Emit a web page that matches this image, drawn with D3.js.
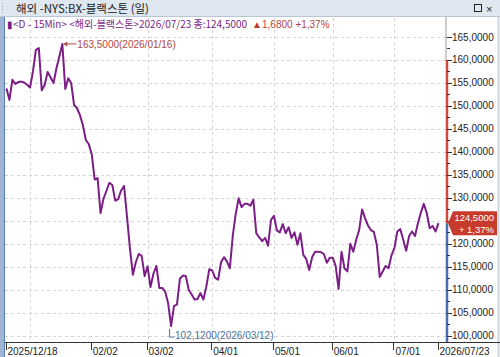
<!DOCTYPE html>
<html>
<head>
<meta charset="utf-8">
<script src="https://cdnjs.cloudflare.com/ajax/libs/d3/7.8.5/d3.min.js"></script>
<style>
  body { margin: 0; background: #fff; overflow: hidden; }
  text { font-family: "Liberation Sans", Arial, sans-serif; }
  .kr { font-family: "Noto Sans CJK KR", "Liberation Sans", sans-serif; }
</style>
</head>
<body>
<div id="chart"></div>
<script>
// trading days
var startDay = "2025-12-18"
var endDay = "2026-07-23"
var holidays = ["2025-12-25", "2026-01-01", "2026-01-19", "2026-02-16",
                "2026-04-03", "2026-05-25", "2026-06-19", "2026-07-03"]

// daily closes
var closes = [
  153.8, 151.3, 155.7, 154.8, 155.2, 155.3, 155.1, 154.6, 154.0, 157.5,
  162.2, 162.6, 153.4, 154.6, 157.4, 156.2, 155.0, 158.2, 160.8, 163.5,
  153.7, 156.0, 155.0, 150.2, 149.5, 148.0, 145.8, 142.6, 141.7, 139.5,
  134.0, 134.3, 126.7, 129.8, 131.5, 133.3, 132.8, 129.4, 129.7, 131.6,
  132.6, 126.0, 119.0, 113.3, 116.0, 117.8, 117.4, 113.0, 115.1, 110.6,
  113.5, 115.2, 110.4, 110.4, 109.6, 107.1, 102.12, 106.5, 106.8, 112.4,
  113.1, 113.0, 110.0, 109.0, 107.9, 108.0, 109.3, 107.9, 110.7, 114.5,
  114.2, 112.6, 112.2, 116.0, 117.1, 116.2, 114.7, 121.8, 126.5, 129.9,
  128.0, 128.7, 128.7, 128.3, 129.6, 122.3, 121.4, 120.6, 121.3, 119.6,
  125.2, 126.1, 122.9, 122.5, 124.3, 122.3, 123.6, 121.3, 122.5, 119.8,
  122.3, 117.6, 116.7, 114.3, 117.1, 118.3, 118.3, 118.2, 117.8, 115.9,
  117.0, 117.0, 115.2, 110.2, 118.3, 114.7, 114.0, 120.0, 118.3, 120.9,
  123.0, 127.5, 125.6, 124.0, 123.0, 122.6, 119.8, 112.8, 114.0, 115.2,
  114.7, 117.5, 119.1, 122.7, 123.2, 120.9, 118.5, 121.7, 122.7, 121.7,
  124.5, 126.8, 128.7, 126.7, 123.4, 123.9, 122.7, 124.5
]

var yTicks = [100, 105, 110, 115, 120, 125, 130, 135, 140, 145, 150, 155, 160, 165]
var xTickDates = ["2025-12-18", "2026-02-02", "2026-03-02", "2026-04-01",
                  "2026-05-01", "2026-06-01", "2026-07-01", "2026-07-23"]
var xTickLabels = ["2025/12/18", "02/02", "03/02", "04/01", "05/01", "06/01", "07/01", "2026/07/23"]
var gridDates = ["2025-12-31", "2026-03-02", "2026-04-01", "2026-05-01", "2026-06-01", "2026-07-01"]

var highPoint = { date: "2026-01-16", value: 163.5 }
var lowPoint = { date: "2026-03-12", value: 102.12 }
var lastPrice = 124.5
var change = 1.68
var changePct = 1.37
var barTop = 160

var titleText = "해외 -NYS:BX-블랙스톤 (일)"
var headText = "<D - 15Min> <해외-블랙스톤>2026/07/23 종:"

// build the day list (weekdays that are not holidays)
var days = []
var fmtDay = d3.utcFormat("%Y-%m-%d")
var d0 = new Date(startDay + "T00:00:00Z")
var d1 = new Date(endDay + "T00:00:00Z")
for (var t = d0; t <= d1; t = d3.utcDay.offset(t, 1)) {
  var wd = t.getUTCDay()
  var s = fmtDay(t)
  if (wd != 0 && wd != 6 && holidays.indexOf(s) < 0) days.push(s)
}
var data = days.map(function(d, i){ return { date: d, value: closes[i] } })

var comma = function(v, n){ return d3.format("." + n + "f")(v).replace(".", ",") }

var w = 500, h = 357
var axisX = 447, axisY = 342

var x = d3.scalePoint().domain(days).range([6.5, 438.5])
var y = d3.scaleLinear().domain([100, 165]).range([335.8, 37])

var svg = d3.select("#chart").append("svg")
  .attr("width", w)
  .attr("height", h)

// title bar
svg.append("rect").attr("x", 0).attr("y", 0).attr("width", w).attr("height", 16)
  .attr("fill", "#dfe7f0")
svg.append("line").attr("x1", 0).attr("x2", w).attr("y1", 16.5).attr("y2", 16.5)
  .attr("stroke", "#b8c6d6")
svg.append("line").attr("x1", 2.5).attr("x2", 2.5).attr("y1", 3).attr("y2", 13)
  .attr("stroke", "#8a9bb0").attr("stroke-dasharray", "1,2")
svg.append("text").attr("class", "kr").attr("x", 16).attr("y", 12.5)
  .attr("font-size", 11.5).attr("fill", "#222").text(titleText)
svg.append("rect").attr("x", 474.5).attr("y", 4.5).attr("width", 7).attr("height", 7)
  .attr("fill", "none").attr("stroke", "#222")
svg.append("text").attr("x", 486).attr("y", 12.5).attr("font-size", 11)
  .attr("fill", "#222").text("×")

// left strip and right border
svg.append("rect").attr("x", 0).attr("y", 17).attr("width", 4).attr("height", h - 17)
  .attr("fill", "#9fb5d3")
svg.append("line").attr("x1", 4.5).attr("x2", 4.5).attr("y1", 17).attr("y2", h)
  .attr("stroke", "#5b7fb3")
svg.append("line").attr("x1", 498.5).attr("x2", 498.5).attr("y1", 17).attr("y2", h)
  .attr("stroke", "#d0d6de").attr("stroke-width", 2)

// grid
svg.append("g").selectAll("line")
  .data(yTicks)
  .enter()
  .append("line")
  .attr("x1", 5).attr("x2", axisX)
  .attr("y1", function(d){ return Math.round(y(d)) + 0.5 })
  .attr("y2", function(d){ return Math.round(y(d)) + 0.5 })
  .attr("stroke", "#d4d4d4").attr("stroke-dasharray", "3,3")

svg.append("g").selectAll("line")
  .data(gridDates)
  .enter()
  .append("line")
  .attr("x1", function(d){ return Math.round(x(d)) + 0.5 })
  .attr("x2", function(d){ return Math.round(x(d)) + 0.5 })
  .attr("y1", 18).attr("y2", axisY)
  .attr("stroke", "#d4d4d4").attr("stroke-dasharray", "3,3")

// header line
var head = svg.append("text").attr("x", 7).attr("y", 28).attr("font-size", 10)
head.append("tspan").attr("fill", "#7b1f86").text("▮")
head.append("tspan").attr("class", "kr").attr("fill", "#7b1f86").attr("font-size", 10)
  .text(headText + comma(lastPrice, 4))
head.append("tspan").attr("fill", "#c0392b").attr("dx", 5).text("▲")
head.append("tspan").attr("fill", "#b0473e").text(comma(change, 4) + " +" + comma(changePct, 2) + "%")

// price line
var line = d3.line()
  .x(function(d){ return x(d.date) })
  .y(function(d){ return y(d.value) })

svg.append("path")
  .datum(data)
  .attr("fill", "none")
  .attr("stroke", "#7b1f86")
  .attr("stroke-width", 2)
  .attr("stroke-linejoin", "round")
  .attr("d", line)

// high marker
var hx = x(highPoint.date), hy = y(highPoint.value)
svg.append("line").attr("x1", hx + 2).attr("x2", hx + 14).attr("y1", hy).attr("y2", hy)
  .attr("stroke", "#b0473e")
svg.append("path").attr("d", d3.line()([[hx + 1, hy], [hx + 5, hy - 2.5], [hx + 5, hy + 2.5]]) + "Z")
  .attr("fill", "#b0473e")
svg.append("text").attr("x", hx + 15).attr("y", hy + 4).attr("font-size", 10)
  .attr("fill", "#b0473e")
  .text(comma(highPoint.value, 4) + "(" + highPoint.date.replace(/-/g, "/") + ")")

// low marker
var lx = x(lowPoint.date), ly = y(lowPoint.value)
svg.append("path").attr("d", d3.line()([[lx - 1.5, ly + 3], [lx - 1.5, ly + 11], [lx + 3, ly + 11]]))
  .attr("fill", "none").attr("stroke", "#4f6f99")
svg.append("text").attr("x", lx + 4).attr("y", ly + 13).attr("font-size", 10)
  .attr("fill", "#4f6f99")
  .text(comma(lowPoint.value, 4) + "(" + lowPoint.date.replace(/-/g, "/") + ")")

// right price axis
var py = y(lastPrice)
svg.append("line").attr("x1", axisX).attr("x2", axisX).attr("y1", y(barTop)).attr("y2", py)
  .attr("stroke", "#d04a3a").attr("stroke-width", 2.5)
svg.append("line").attr("x1", axisX).attr("x2", axisX).attr("y1", py).attr("y2", axisY)
  .attr("stroke", "#4a6fb0").attr("stroke-width", 2.5)
svg.append("line").attr("x1", axisX - 1).attr("x2", axisX - 1).attr("y1", 17).attr("y2", y(barTop))
  .attr("stroke", "#999")

var yAxis = svg.append("g")
yAxis.selectAll("line.major")
  .data(yTicks)
  .enter()
  .append("line")
  .attr("x1", axisX).attr("x2", axisX + 5)
  .attr("y1", function(d){ return Math.round(y(d)) + 0.5 })
  .attr("y2", function(d){ return Math.round(y(d)) + 0.5 })
  .attr("stroke", "#333")
yAxis.selectAll("line.minor")
  .data(yTicks.slice(0, -1))
  .enter()
  .append("line")
  .attr("x1", axisX).attr("x2", axisX + 3)
  .attr("y1", function(d){ return Math.round(y(d + 2.5)) + 0.5 })
  .attr("y2", function(d){ return Math.round(y(d + 2.5)) + 0.5 })
  .attr("stroke", "#333")
// labels hidden behind the price tag are skipped
yAxis.selectAll("text")
  .data(yTicks.filter(function(d){ return Math.abs(y(d) - py) > 16 }))
  .enter()
  .append("text")
  .attr("x", axisX + 5)
  .attr("y", function(d){ return y(d) + 3.5 })
  .attr("font-size", 10)
  .attr("fill", "#222")
  .text(function(d){ return comma(d, 4) })

// current price tag
svg.append("path")
  .attr("d", d3.line()([[axisX + 1, py], [axisX + 6, py - 12], [497, py - 12], [497, py + 12], [axisX + 6, py + 12]]) + "Z")
  .attr("fill", "#c73b2c")
svg.append("text").attr("x", 494).attr("y", py - 2.5).attr("text-anchor", "end")
  .attr("font-size", 9.5).attr("fill", "#fff").text(comma(lastPrice, 4))
svg.append("text").attr("x", 494).attr("y", py + 9.5).attr("text-anchor", "end")
  .attr("font-size", 9.5).attr("fill", "#fff").text("+ " + comma(changePct, 2) + "%")

// bottom date axis
svg.append("line").attr("x1", 5).attr("x2", w).attr("y1", axisY + 0.5).attr("y2", axisY + 0.5)
  .attr("stroke", "#333")
var xAxis = svg.append("g")
xAxis.selectAll("line")
  .data(xTickDates)
  .enter()
  .append("line")
  .attr("x1", function(d){ return Math.round(x(d)) - 0.5 })
  .attr("x2", function(d){ return Math.round(x(d)) - 0.5 })
  .attr("y1", axisY).attr("y2", axisY + 8)
  .attr("stroke", "#333")
xAxis.selectAll("text")
  .data(xTickDates)
  .enter()
  .append("text")
  .attr("x", function(d){ return x(d) + 1 })
  .attr("y", axisY + 13)
  .attr("font-size", 10)
  .attr("fill", "#222")
  .text(function(d, i){ return xTickLabels[i] })
</script>
</body>
</html>
